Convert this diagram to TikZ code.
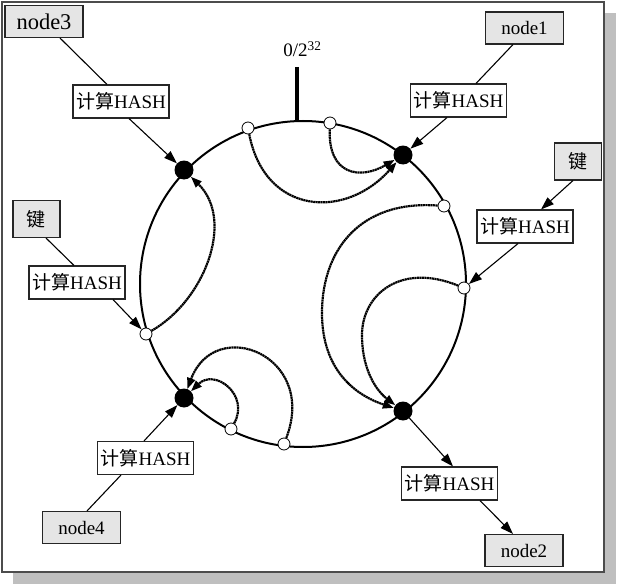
\documentclass[tikz,border=0pt]{standalone}
\usepackage{fontspec}
\setmainfont{Liberation Serif}
\newfontfamily\cjk{Noto Sans CJK SC}
\usetikzlibrary{arrows.meta}
\begin{document}
\begin{tikzpicture}[x=1pt,y=-1pt,
  box/.style={draw=black!85,line width=1.1pt,inner sep=0pt,font=\fontsize{19}{21}\selectfont},
  hashbox/.style={box,fill=white,minimum width=96pt,minimum height=33pt},
  namebox/.style={box,fill=black!10,minimum width=78pt,minimum height=32pt},
  keybox/.style={box,fill=black!10,minimum width=47pt,minimum height=37pt},
  dot/.style={circle,fill=black,inner sep=0pt,minimum size=19pt},
  pt/.style={circle,draw=black,fill=white,line width=0.8pt,inner sep=0pt,minimum size=12pt},
  link/.style={line width=1.1pt},
  arr/.style={link,-{Triangle[length=13pt,width=9pt]}},
  flow/.style={line width=2.2pt,dash pattern=on 2pt off 0.5pt,-{Triangle[length=11pt,width=8pt]}},
]
\useasboundingbox (0,0) rectangle (619,586);
\fill[white] (0,0) rectangle (619,586);
% shadow and frame
\fill[black!25] (13,572) rectangle (616,584);
\fill[black!25] (604,13) rectangle (616,584);
\draw[draw=black!70,line width=2pt,fill=white] (2,2) rectangle (604,572);

% ring and zero mark
\draw[line width=2pt] (303,284) circle (163pt);
\draw[line width=3.5pt] (297,67) -- (297,120);
\node[anchor=base,font=\fontsize{19}{21}\selectfont,inner sep=0pt] (zero) at (302.5,57) {0/2\textsuperscript{32}};

% server nodes on the ring
\node[dot] (d1) at (403,155) {};
\node[dot] (d3) at (184,170) {};
\node[dot] (d4) at (184,398) {};
\node[dot] (d2) at (403,411) {};

% key positions on the ring
\node[pt] (c1) at (248,128) {};
\node[pt] (c2) at (330,123) {};
\node[pt] (c3) at (444,206) {};
\node[pt] (c4) at (464,288) {};
\node[pt] (c5) at (146,334) {};
\node[pt] (c6) at (231,429) {};
\node[pt] (c7) at (284,444) {};

% boxes
\node[namebox,font=\fontsize{22.5}{24}\selectfont] (n3) at (44,21.5) {node3};
\node[hashbox] (h3) at (121,101.5) {{\cjk 计算}HASH};
\node[namebox] (n1) at (524.5,28) {node1};
\node[hashbox] (h1) at (458.5,100.5) {{\cjk 计算}HASH};
\node[keybox] (kR) at (578,161.5) {\cjk 键};
\node[hashbox] (hR) at (525,226.5) {{\cjk 计算}HASH};
\node[keybox] (kL) at (36.5,219) {\cjk 键};
\node[hashbox] (hL) at (77,282.5) {{\cjk 计算}HASH};
\node[hashbox] (h4) at (145.5,458) {{\cjk 计算}HASH};
\node[namebox] (n4) at (81.5,527.5) {node4};
\node[hashbox] (h2) at (449.5,483.5) {{\cjk 计算}HASH};
\node[namebox] (n2) at (524,550.5) {node2};

% straight connectors
\draw[link] ([xshift=16pt]n3.south) -- ([xshift=-14pt]h3.north);
\draw[arr] ([xshift=8pt]h3.south) -- (d3);
\draw[link] ([xshift=-11.5pt]n1.south) -- ([xshift=17.5pt]h1.north);
\draw[arr] ([xshift=-11.5pt]h1.south) -- (d1);
\draw[arr] ([xshift=-5pt]kR.south) -- ([xshift=16pt]hR.north);
\draw[arr] ([xshift=-7pt]hR.south) -- (c4);
\draw[link] ([xshift=9.5pt]kL.south) -- ([xshift=-3pt]hL.north);
\draw[arr] ([xshift=36pt]hL.south) -- (c5);
\draw[link] ([xshift=5.5pt]n4.north) -- ([xshift=-24.5pt]h4.south);
\draw[arr] ([xshift=-1.5pt]h4.north) -- (d4);
\draw[arr] (d2) -- ([xshift=3.5pt]h2.north);
\draw[arr] ([xshift=30.5pt]h2.south) -- ([xshift=-11pt]n2.north);

% key-to-node flows
\draw[flow] (c1) .. controls (265,215) and (345,220) .. (d1);
\draw[flow] (c2) .. controls (328,175) and (360,180) .. (d1);
\draw[flow] (c3) .. controls (360,200) and (322,250) .. (322,313) .. controls (322,370) and (355,395) .. (d2);
\draw[flow] (c4) .. controls (400,262) and (362,295) .. (362,335) .. controls (362,372) and (378,392) .. (d2);
\draw[flow] (c5) .. controls (205,300) and (235,220) .. (d3);
\draw[flow] (c6) .. controls (250,395) and (215,368) .. (d4);
\draw[flow] (c7) .. controls (318,355) and (215,315) .. (d4);
\end{tikzpicture}
\end{document}
